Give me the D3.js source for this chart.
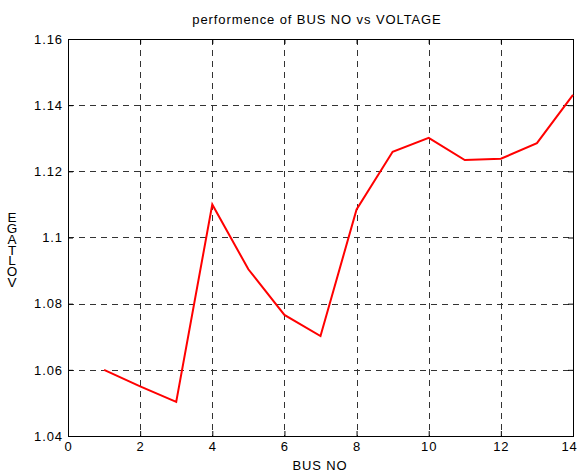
<!DOCTYPE html>
<html><head><meta charset="utf-8">
<script src="https://cdn.jsdelivr.net/npm/d3@7"></script>
<style>body{margin:0;background:#fff}svg{display:block}text{font-family:Arial,"Liberation Sans",sans-serif;letter-spacing:0.9px}</style>
</head><body><svg id="c" width="579" height="472"></svg>
<script>
const busNo = [1,2,3,4,5,6,7,8,9,10,11,12,13,14];
const voltage = [1.06,1.055,1.0503,1.11,1.0904,1.0766,1.0702,1.1085,1.1259,1.1301,1.1234,1.1238,1.1285,1.1431];
const xTicks = [0,2,4,6,8,10,12,14];
const yTicks = [1.04,1.06,1.08,1.1,1.12,1.14,1.16];
const title = "performence of BUS NO vs VOLTAGE";
const xLabel = "BUS NO";
const yLabel = "VOLTAGE";

const svg = d3.select("#c");
const L=68,R=573,T=39,B=436;
const x = d3.scaleLinear().domain([0,14]).range([L,R]);
const y = d3.scaleLinear().domain([1.04,1.16]).range([B,T]);

// grid
const g = svg.append("g");
g.selectAll(".vg").data(xTicks.slice(1,-1)).enter().append("line")
 .attr("x1",d=>Math.round(x(d))+0.5).attr("x2",d=>Math.round(x(d))+0.5).attr("y1",T).attr("y2",B)
 .attr("stroke","#333").attr("stroke-width",1).attr("stroke-dasharray","6,5");
g.selectAll(".hg").data(yTicks.slice(1,-1)).enter().append("line")
 .attr("y1",d=>Math.round(y(d))+0.5).attr("y2",d=>Math.round(y(d))+0.5).attr("x1",L).attr("x2",R)
 .attr("stroke","#333").attr("stroke-width",1).attr("stroke-dasharray","6,5");

// axes
const fmt = d=>d3.format("")(+d.toFixed(2));
const styleTxt = a=>{a.select(".domain").attr("stroke","#000");a.selectAll("text").attr("font-size",13).attr("fill","#000").attr("font-family","Arial,'Liberation Sans',sans-serif");};
svg.append("g").attr("transform",`translate(0,${B})`)
 .call(d3.axisBottom(x).tickValues(xTicks).tickSizeInner(-5).tickSizeOuter(0).tickPadding(6).tickFormat(d3.format("d")))
 .call(styleTxt)
 .call(a=>a.selectAll(".tick text").filter(d=>d===14).attr("dx",-4));
svg.append("g").attr("transform",`translate(${L},0)`)
 .call(d3.axisLeft(y).tickValues(yTicks).tickSizeInner(-5).tickSizeOuter(0).tickPadding(5).tickFormat(fmt))
 .call(styleTxt);
svg.append("g").attr("transform",`translate(0,${T})`)
 .call(d3.axisTop(x).tickValues(xTicks).tickSizeInner(-5).tickSizeOuter(0).tickFormat(""));
svg.append("g").attr("transform",`translate(${R},0)`)
 .call(d3.axisRight(y).tickValues(yTicks).tickSizeInner(-5).tickSizeOuter(0).tickFormat(""));
svg.append("rect").attr("x",L+0.5).attr("y",T+0.5).attr("width",R-L).attr("height",B-T)
 .attr("fill","none").attr("stroke","#000").attr("stroke-width",1);

// line
svg.append("path").datum(busNo.map((b,i)=>[b,voltage[i]]))
 .attr("d",d3.line().x(d=>x(d[0])).y(d=>y(d[1])))
 .attr("fill","none").attr("stroke","#ff0000").attr("stroke-width",2);

// labels
svg.append("text").attr("x",317).attr("y",24).attr("text-anchor","middle").attr("font-size",13).text(title);
svg.append("text").attr("x",320).attr("y",470).attr("text-anchor","middle").attr("font-size",13).text(xLabel);
const letters = yLabel.split("");
svg.append("g").selectAll("text").data(letters).enter().append("text")
 .attr("x",12).attr("y",(d,i)=>287 - i*10.8).attr("text-anchor","middle").attr("font-size",13.5).style("letter-spacing","0px").text(d=>d);
</script></body></html>
